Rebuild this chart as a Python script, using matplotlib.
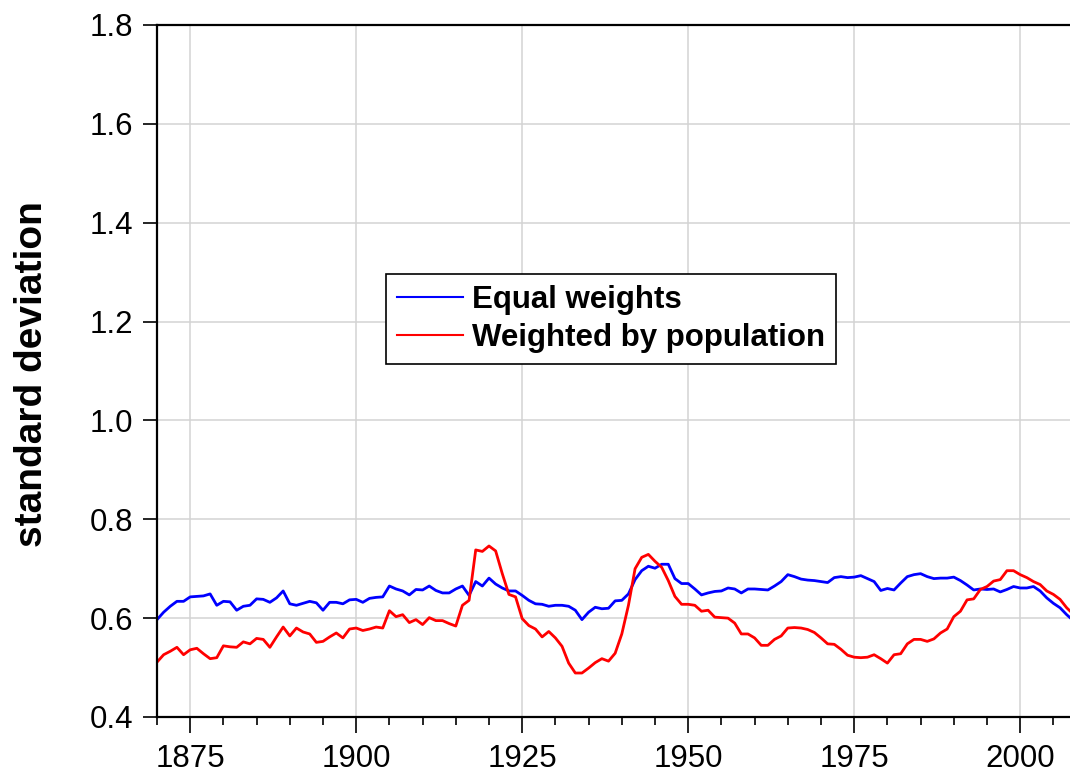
import numpy as np
import matplotlib
matplotlib.use("Agg")
import matplotlib.pyplot as plt
from matplotlib.ticker import MultipleLocator

plt.rcParams['font.family'] = ['Liberation Sans', 'DejaVu Sans']

# years 1870 - 2008
years = np.arange(1870, 2009)

equal_weights = [
    0.597, 0.612, 0.624, 0.634, 0.634, 0.643, 0.644, 0.645, 0.649, 0.626,  # 1870s
    0.634, 0.633, 0.616, 0.624, 0.626, 0.639, 0.638, 0.632, 0.641, 0.655,  # 1880s
    0.629, 0.626, 0.630, 0.634, 0.631, 0.616, 0.632, 0.632, 0.629, 0.637,  # 1890s
    0.638, 0.632, 0.640, 0.642, 0.643, 0.665, 0.659, 0.655, 0.647, 0.658,  # 1900s
    0.657, 0.665, 0.656, 0.651, 0.651, 0.659, 0.665, 0.646, 0.674, 0.665,  # 1910s
    0.681, 0.669, 0.661, 0.655, 0.655, 0.646, 0.636, 0.629, 0.628, 0.624,  # 1920s
    0.626, 0.626, 0.624, 0.616, 0.597, 0.612, 0.622, 0.619, 0.620, 0.635,  # 1930s
    0.636, 0.649, 0.678, 0.696, 0.705, 0.701, 0.709, 0.709, 0.680, 0.670,  # 1940s
    0.670, 0.659, 0.647, 0.651, 0.654, 0.655, 0.661, 0.659, 0.651, 0.659,  # 1950s
    0.659, 0.658, 0.657, 0.665, 0.674, 0.688, 0.684, 0.679, 0.677, 0.676,  # 1960s
    0.674, 0.672, 0.682, 0.684, 0.682, 0.683, 0.686, 0.680, 0.674, 0.656,  # 1970s
    0.660, 0.657, 0.671, 0.684, 0.688, 0.690, 0.684, 0.680, 0.681, 0.681,  # 1980s
    0.683, 0.676, 0.667, 0.657, 0.659, 0.658, 0.659, 0.653, 0.658, 0.664,  # 1990s
    0.661, 0.661, 0.664, 0.655, 0.641, 0.630, 0.621, 0.607, 0.595,         # 2000s
]

by_population = [
    0.511, 0.526, 0.533, 0.541, 0.526, 0.536, 0.539, 0.528, 0.518, 0.520,
    0.544, 0.542, 0.541, 0.552, 0.548, 0.559, 0.557, 0.541, 0.562, 0.582,
    0.564, 0.580, 0.572, 0.568, 0.551, 0.553, 0.562, 0.570, 0.560, 0.578,
    0.580, 0.575, 0.578, 0.582, 0.580, 0.615, 0.603, 0.607, 0.591, 0.597,
    0.587, 0.601, 0.595, 0.595, 0.589, 0.584, 0.626, 0.636, 0.738, 0.735,
    0.746, 0.736, 0.690, 0.648, 0.643, 0.599, 0.585, 0.578, 0.562, 0.573,
    0.560, 0.543, 0.509, 0.489, 0.489, 0.499, 0.510, 0.518, 0.513, 0.529,
    0.568, 0.626, 0.700, 0.723, 0.729, 0.715, 0.703, 0.676, 0.644, 0.628,
    0.628, 0.626, 0.614, 0.616, 0.602, 0.601, 0.600, 0.590, 0.568, 0.568,
    0.560, 0.545, 0.545, 0.557, 0.564, 0.580, 0.581, 0.580, 0.577, 0.571,
    0.560, 0.548, 0.547, 0.537, 0.525, 0.521, 0.520, 0.521, 0.526, 0.518,
    0.509, 0.526, 0.528, 0.548, 0.557, 0.557, 0.553, 0.558, 0.570, 0.578,
    0.603, 0.614, 0.637, 0.639, 0.658, 0.664, 0.675, 0.678, 0.696, 0.696,
    0.688, 0.682, 0.674, 0.668, 0.655, 0.648, 0.638, 0.621, 0.608,
]

labels = ['Equal weights', 'Weighted by population']

fig = plt.figure(figsize=(10.7, 7.72), dpi=100)
ax = fig.add_axes([157 / 1070, 1 - 717 / 772, 1 - 157 / 1070, (717 - 25) / 772])

ax.plot(years, equal_weights, color='#0000ff', lw=2.0, label=labels[0])
ax.plot(years, by_population, color='#ff0000', lw=2.0, label=labels[1])

ax.set_xlim(1870, 2007.5)
ax.set_ylim(0.4, 1.8)
ax.xaxis.set_minor_locator(MultipleLocator(5))
ax.yaxis.set_major_locator(MultipleLocator(0.2))
ax.yaxis.set_major_formatter(matplotlib.ticker.FormatStrFormatter('%.1f'))
ax.set_xticks([1875, 1900, 1925, 1950, 1975, 2000])

ax.grid(True, which='major', color='#d3d3d3', lw=1.1)
ax.set_axisbelow(True)

for s in ['left', 'bottom', 'top']:
    ax.spines[s].set_linewidth(1.6)
ax.spines['right'].set_visible(False)

ax.tick_params(axis='x', which='major', length=11.5, width=1.2, pad=8, labelsize=22.5, direction='out')
ax.tick_params(axis='x', which='minor', length=5.5, width=1.2, direction='out')
ax.tick_params(axis='y', which='major', length=10, width=1.2, pad=7, labelsize=22.5, direction='out')
ax.tick_params(top=False, right=False, which='both')

fig.text(32 / 1070, 1 - 374 / 772, 'standard deviation', rotation=90,
         ha='center', va='center', fontsize=28, fontweight='bold')

leg = ax.legend(loc='upper left', bbox_to_anchor=(386 / 1070, 1 - 274 / 772),
                bbox_transform=fig.transFigure, borderaxespad=0,
                prop={'size': 22.5, 'weight': 'bold'}, frameon=True, fancybox=False,
                framealpha=1, edgecolor='black', handlelength=2.1, handletextpad=0.3,
                labelspacing=0.25, borderpad=0.35)
leg.get_frame().set_linewidth(1.2)
for line in leg.get_lines():
    line.set_linewidth(1.5)

fig.savefig('out.png', dpi=100)
